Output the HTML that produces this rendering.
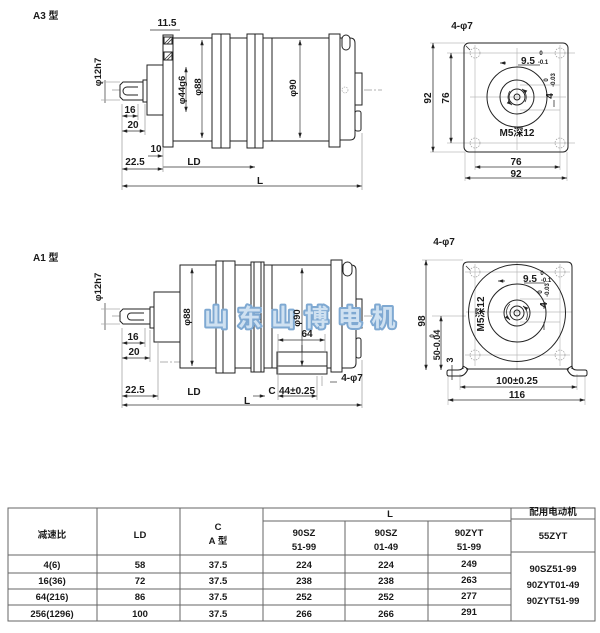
<!DOCTYPE html>
<html><head><meta charset="utf-8"><style>
html,body{margin:0;padding:0;background:#fff;}
svg{display:block;}
text{font-family:"Liberation Sans Narrow","Liberation Sans","Noto Sans CJK SC",sans-serif;font-weight:bold;fill:#1a1a1a;}
</style></head><body>
<svg width="600" height="633" viewBox="0 0 600 633" xmlns="http://www.w3.org/2000/svg">
<defs>
<marker id="a" viewBox="0 0 6 4" refX="6" refY="2" markerWidth="6" markerHeight="3.5" markerUnits="userSpaceOnUse" orient="auto-start-reverse"><path d="M0,0 L6,2 L0,4z" fill="#222"/></marker>
</defs>
<rect width="600" height="633" fill="#fff"/>

<!-- ===================== A3 ===================== -->
<text x="33" y="19" font-size="10">A3 型</text>

<g stroke="#999" stroke-width="0.7" stroke-dasharray="8,2,2,2" fill="none">
<line x1="112" y1="90" x2="382" y2="90"/>
<line x1="270" y1="46" x2="290" y2="46"/>
<line x1="270" y1="133" x2="290" y2="133"/>
<line x1="190" y1="64" x2="200" y2="64"/>
<line x1="190" y1="116" x2="200" y2="116"/>
</g>

<g stroke="#222" stroke-width="1" fill="#fff">
<path d="M120,85 L123,82 L143,82 L143,100 L123,100 L120,97 Z"/>
<path d="M138,87 L127,87 A4,4 0 0 0 127,95 L138,95" fill="none"/>
<rect x="143" y="80" width="4" height="22"/>
<rect x="147" y="65" width="16" height="50"/>
<rect x="173" y="38" width="156" height="103"/>
<rect x="163" y="35" width="10" height="112"/>
<rect x="164" y="37" width="8" height="7"/>
<rect x="164" y="52" width="8" height="8"/>
<rect x="212" y="34" width="18" height="114"/>
<line x1="221" y1="34" x2="221" y2="148"/>
<rect x="247" y="34" width="16" height="114"/>
<line x1="255" y1="34" x2="255" y2="148"/>
<line x1="272" y1="38" x2="272" y2="141"/>
<path d="M339,38 L350,38 Q355,38 355,43 L355,135 Q355,140 350,140 L339,140 Z"/>
<rect x="329" y="34" width="11" height="113"/>
<rect x="342" y="35" width="8" height="15" rx="4"/>
<rect x="355" y="73" width="7" height="32"/>
<rect x="355" y="111" width="6" height="20" rx="2"/>
</g>
<g stroke="#333" stroke-width="0.8">
<line x1="164" y1="44" x2="171" y2="37"/><line x1="167" y1="44" x2="172" y2="39"/>
<line x1="164" y1="60" x2="172" y2="52"/><line x1="167" y1="60" x2="172" y2="55"/>
</g>
<circle cx="345" cy="90" r="3" fill="none" stroke="#aaa" stroke-width="0.7" stroke-dasharray="1.5,1"/>

<g stroke="#333" stroke-width="0.7" fill="none">
<line x1="105" y1="80" x2="105" y2="103"/>
<line x1="101" y1="82" x2="120" y2="82" stroke="#aaa"/>
<line x1="101" y1="100" x2="120" y2="100" stroke="#aaa"/>
<line x1="150" y1="30" x2="180" y2="30"/>
<line x1="186" y1="67" x2="186" y2="112" marker-start="url(#a)" marker-end="url(#a)"/>
<line x1="202" y1="40" x2="202" y2="138" marker-start="url(#a)" marker-end="url(#a)"/>
<line x1="300" y1="40" x2="300" y2="138" marker-start="url(#a)" marker-end="url(#a)"/>
<line x1="122" y1="116" x2="138" y2="116" marker-start="url(#a)" marker-end="url(#a)"/>
<line x1="122" y1="131" x2="145" y2="131" marker-start="url(#a)" marker-end="url(#a)"/>
<line x1="148" y1="156" x2="163" y2="156" marker-end="url(#a)"/>
<line x1="122" y1="169" x2="163" y2="169" marker-start="url(#a)" marker-end="url(#a)"/>
<line x1="163" y1="167" x2="255" y2="167" marker-end="url(#a)"/>
<line x1="122" y1="186" x2="362" y2="186" marker-start="url(#a)" marker-end="url(#a)"/>
<line x1="122" y1="104" x2="122" y2="190" stroke="#999"/>
<line x1="138" y1="104" x2="138" y2="120" stroke="#999"/>
<line x1="145" y1="104" x2="145" y2="135" stroke="#999"/>
<line x1="163" y1="148" x2="163" y2="172" stroke="#999"/>
<line x1="362" y1="133" x2="362" y2="190" stroke="#999"/>
</g>
<text x="167" y="26" font-size="10" text-anchor="middle">11.5</text>
<text transform="translate(101,72) rotate(-90)" font-size="9.5" text-anchor="middle">φ12h7</text>
<text transform="translate(185,90) rotate(-90)" font-size="9.5" text-anchor="middle">φ44g6</text>
<text transform="translate(201,87) rotate(-90)" font-size="9.5" text-anchor="middle">φ88</text>
<text transform="translate(296,88) rotate(-90)" font-size="9.5" text-anchor="middle">φ90</text>
<text x="130" y="113" font-size="10" text-anchor="middle">16</text>
<text x="133" y="128" font-size="10" text-anchor="middle">20</text>
<text x="156" y="152" font-size="10" text-anchor="middle">10</text>
<text x="135" y="165" font-size="10" text-anchor="middle">22.5</text>
<text x="194" y="165" font-size="10" text-anchor="middle">LD</text>
<text x="260" y="184" font-size="10" text-anchor="middle">L</text>

<!-- A3 end view -->
<text x="462" y="29" font-size="10" text-anchor="middle">4-φ7</text>
<g stroke="#bbb" stroke-width="0.7" fill="none">
<line x1="470" y1="97" x2="566" y2="97"/>
<line x1="517" y1="48" x2="517" y2="150"/>
<line x1="430" y1="43" x2="465" y2="43"/>
<line x1="447" y1="53" x2="575" y2="53"/>
<line x1="447" y1="143" x2="575" y2="143"/>
<line x1="430" y1="152" x2="465" y2="152"/>
<line x1="475" y1="45" x2="475" y2="170"/>
<line x1="560" y1="45" x2="560" y2="170"/>
<line x1="465" y1="152" x2="465" y2="181"/>
<line x1="567" y1="152" x2="567" y2="181"/>
<line x1="520" y1="85" x2="560" y2="85"/>
<line x1="520" y1="110" x2="560" y2="110"/>
</g>
<g fill="none" stroke="#999" stroke-width="0.7" stroke-dasharray="1.5,1.2">
<circle cx="475" cy="53" r="5"/><circle cx="560" cy="53" r="5"/>
<circle cx="475" cy="143" r="5"/><circle cx="560" cy="143" r="5"/>
</g>
<g fill="none" stroke="#222" stroke-width="1">
<rect x="464" y="43" width="104" height="109" rx="5"/>
<circle cx="517" cy="97" r="30"/>
<circle cx="517" cy="97" r="17"/>
<circle cx="517" cy="97" r="8"/>
<circle cx="517" cy="97" r="3"/>
</g>
<g stroke="#333" stroke-width="0.8" fill="none">
<path d="M512,105 A10,10 0 0 1 510,91" marker-start="url(#a)"/>
<path d="M522,89 A10,10 0 0 1 525,102" marker-start="url(#a)"/>
<line x1="466" y1="46" x2="470" y2="50"/>
<line x1="433" y1="43" x2="433" y2="152" marker-start="url(#a)" marker-end="url(#a)"/>
<line x1="451" y1="53" x2="451" y2="143" marker-start="url(#a)" marker-end="url(#a)"/>
<line x1="475" y1="167" x2="560" y2="167" marker-start="url(#a)" marker-end="url(#a)"/>
<line x1="465" y1="178" x2="567" y2="178" marker-start="url(#a)" marker-end="url(#a)"/>
<line x1="500" y1="63" x2="506" y2="63" marker-start="url(#a)"/>
<line x1="518" y1="65" x2="540" y2="65"/>
<line x1="554" y1="100" x2="554" y2="107"/>
</g>
<text x="528" y="64" font-size="10" text-anchor="middle">9.5</text>
<text x="541" y="55" font-size="6" text-anchor="middle">0</text>
<text x="543" y="64" font-size="6" text-anchor="middle">-0.1</text>
<text transform="translate(553,96) rotate(-90)" font-size="10" text-anchor="middle">4</text>
<text transform="translate(548,80) rotate(-90)" font-size="6" text-anchor="middle">0</text>
<text transform="translate(555,80) rotate(-90)" font-size="6" text-anchor="middle">-0.03</text>
<text x="517" y="136" font-size="10" text-anchor="middle">M5深12</text>
<text transform="translate(431,98) rotate(-90)" font-size="10" text-anchor="middle">92</text>
<text transform="translate(449,98) rotate(-90)" font-size="10" text-anchor="middle">76</text>
<text x="516" y="165" font-size="10" text-anchor="middle">76</text>
<text x="516" y="177" font-size="10" text-anchor="middle">92</text>

<!-- ===================== A1 ===================== -->
<text x="33" y="261" font-size="10">A1 型</text>

<g stroke="#999" stroke-width="0.7" stroke-dasharray="8,2,2,2" fill="none">
<line x1="112" y1="316" x2="382" y2="316"/>
<line x1="160" y1="362" x2="278" y2="362"/>
<line x1="270" y1="268" x2="290" y2="268"/>
</g>

<g stroke="#222" stroke-width="1" fill="#fff">
<path d="M120,312 L123,309 L150,309 L150,324 L123,324 L120,321 Z"/>
<path d="M144,313 L131,313 A3.5,3.5 0 0 0 131,320 L144,320" fill="none"/>
<rect x="150" y="307" width="4" height="21"/>
<rect x="154" y="292" width="26" height="50"/>
<rect x="180" y="265" width="151" height="103"/>
<rect x="216" y="261" width="19" height="112"/>
<line x1="223" y1="261" x2="223" y2="373"/>
<rect x="251" y="262" width="13" height="110"/>
<line x1="254" y1="262" x2="254" y2="372"/>
<line x1="261" y1="262" x2="261" y2="372"/>
<line x1="272" y1="265" x2="272" y2="368"/>
<rect x="277" y="352" width="50" height="22"/>
<line x1="277" y1="366" x2="327" y2="366"/>
<line x1="302" y1="345" x2="302" y2="352"/>
<path d="M341,265 L351,265 Q356,265 356,270 L356,363 Q356,368 351,368 L341,368 Z"/>
<rect x="331" y="260" width="11" height="112"/>
<rect x="343" y="262" width="9" height="14" rx="4.5"/>
<rect x="356" y="299" width="6" height="29"/>
<rect x="356" y="338" width="5" height="20" rx="2"/>
</g>

<!-- watermark -->
<text x="204" y="326" font-size="24" font-family="'Noto Sans CJK SC','WenQuanYi Zen Hei',sans-serif" font-weight="900" stroke="#7fa9d2" stroke-width="4" stroke-linejoin="round" paint-order="stroke" letter-spacing="9.5" style="fill:#cfe1f1">山东山博电机</text>

<!-- A1 dims -->
<g stroke="#333" stroke-width="0.7" fill="none">
<line x1="105" y1="303" x2="105" y2="330"/>
<line x1="101" y1="309" x2="120" y2="309" stroke="#aaa"/>
<line x1="101" y1="324" x2="120" y2="324" stroke="#aaa"/>
<line x1="122" y1="343" x2="145" y2="343" marker-start="url(#a)" marker-end="url(#a)"/>
<line x1="122" y1="358" x2="150" y2="358" marker-start="url(#a)" marker-end="url(#a)"/>
<line x1="192" y1="268" x2="192" y2="366" marker-start="url(#a)" marker-end="url(#a)"/>
<line x1="302" y1="268" x2="302" y2="366" marker-start="url(#a)" marker-end="url(#a)"/>
<line x1="278" y1="340" x2="325" y2="340" marker-start="url(#a)" marker-end="url(#a)"/>
<line x1="122" y1="396" x2="158" y2="396" marker-start="url(#a)" marker-end="url(#a)"/>
<line x1="253" y1="396" x2="265" y2="396" marker-end="url(#a)"/>
<line x1="278" y1="396" x2="317" y2="396" marker-start="url(#a)" marker-end="url(#a)"/>
<line x1="122" y1="405" x2="362" y2="405" marker-start="url(#a)" marker-end="url(#a)"/>
<line x1="122" y1="328" x2="122" y2="408" stroke="#999"/>
<line x1="145" y1="328" x2="145" y2="347" stroke="#999"/>
<line x1="150" y1="330" x2="150" y2="362" stroke="#999"/>
<line x1="158" y1="343" x2="158" y2="400" stroke="#999"/>
<line x1="278" y1="334" x2="278" y2="400" stroke="#999"/>
<line x1="317" y1="376" x2="317" y2="400" stroke="#999"/>
<line x1="322" y1="376" x2="322" y2="386" stroke="#999"/>
<line x1="325" y1="334" x2="325" y2="352" stroke="#999"/>
<line x1="330" y1="382" x2="337" y2="382"/>
<line x1="362" y1="360" x2="362" y2="408" stroke="#999"/>
</g>
<text transform="translate(101,287) rotate(-90)" font-size="9.5" text-anchor="middle">φ12h7</text>
<text transform="translate(190,317) rotate(-90)" font-size="9.5" text-anchor="middle">φ88</text>
<text transform="translate(300,318) rotate(-90)" font-size="9.5" text-anchor="middle">φ90</text>
<text x="133" y="340" font-size="10" text-anchor="middle">16</text>
<text x="134" y="355" font-size="10" text-anchor="middle">20</text>
<text x="307" y="337" font-size="10" text-anchor="middle">64</text>
<text x="352" y="381" font-size="10" text-anchor="middle">4-φ7</text>
<text x="135" y="393" font-size="10" text-anchor="middle">22.5</text>
<text x="194" y="395" font-size="10" text-anchor="middle">LD</text>
<text x="272" y="394" font-size="10" text-anchor="middle">C</text>
<text x="297" y="394" font-size="10" text-anchor="middle">44±0.25</text>
<text x="247" y="404" font-size="10" text-anchor="middle">L</text>

<!-- A1 end view -->
<text x="444" y="245" font-size="10" text-anchor="middle">4-φ7</text>
<g stroke="#bbb" stroke-width="0.7" fill="none">
<line x1="466" y1="312" x2="572" y2="312"/>
<line x1="517" y1="262" x2="517" y2="370"/>
<line x1="422" y1="260" x2="463" y2="260"/>
<line x1="465" y1="272" x2="570" y2="272"/>
<line x1="465" y1="355" x2="570" y2="355"/>
<line x1="432" y1="316" x2="466" y2="316"/>
<line x1="475" y1="264" x2="475" y2="366"/>
<line x1="560" y1="264" x2="560" y2="366"/>
<line x1="460" y1="374" x2="460" y2="390"/>
<line x1="577" y1="374" x2="577" y2="390"/>
<line x1="448" y1="376" x2="448" y2="405"/>
<line x1="585" y1="376" x2="585" y2="405"/>
<line x1="520" y1="299" x2="560" y2="299"/>
<line x1="520" y1="322" x2="560" y2="322"/>
</g>
<g fill="none" stroke="#999" stroke-width="0.7" stroke-dasharray="1.5,1.2">
<circle cx="475" cy="272" r="5"/><circle cx="560" cy="272" r="5"/>
<circle cx="475" cy="355" r="5"/><circle cx="560" cy="355" r="5"/>
</g>
<g fill="none" stroke="#222" stroke-width="1">
<path d="M463,369 L463,267 Q463,262 468,262 L567,262 Q572,262 572,267 L572,369"/>
<path d="M463,366 Q463,370 458,370 L449,370 Q447,370 447,372 L447,374 Q447,376 449,376 L460,376 Q465,376 468,369 Z"/>
<path d="M572,366 Q572,370 577,370 L585,370 Q587,370 587,372 L587,374 Q587,376 585,376 L575,376 Q570,376 567,369 Z"/>
<line x1="466" y1="369" x2="569" y2="369"/>
<circle cx="517" cy="313" r="48.5"/>
<circle cx="517" cy="313" r="29"/>
<circle cx="517" cy="313" r="13"/>
<circle cx="517" cy="313" r="7"/>
<circle cx="517" cy="313" r="3"/>
</g>
<g stroke="#333" stroke-width="0.8" fill="none">
<path d="M510,320 A11,11 0 0 1 510,304" marker-start="url(#a)"/>
<path d="M523,306 A11,11 0 0 1 526,320" marker-start="url(#a)"/>
<line x1="498" y1="281" x2="505" y2="281" marker-start="url(#a)"/>
<line x1="524" y1="283" x2="545" y2="283"/>
<line x1="544" y1="303" x2="544" y2="309"/>
<line x1="544" y1="322" x2="544" y2="330"/>
<line x1="426" y1="260" x2="426" y2="370" marker-start="url(#a)" marker-end="url(#a)"/>
<line x1="441" y1="316" x2="441" y2="370" marker-start="url(#a)" marker-end="url(#a)"/>
<line x1="452" y1="365" x2="452" y2="380"/>
<line x1="460" y1="387" x2="577" y2="387" marker-start="url(#a)" marker-end="url(#a)"/>
<line x1="448" y1="400" x2="585" y2="400" marker-start="url(#a)" marker-end="url(#a)"/>
<line x1="466" y1="266" x2="470" y2="270"/>
</g>
<text x="530" y="282" font-size="10" text-anchor="middle">9.5</text>
<text x="542" y="275" font-size="6" text-anchor="middle">0</text>
<text x="546" y="282" font-size="6" text-anchor="middle">-0.1</text>
<text transform="translate(547,305) rotate(-90)" font-size="10" text-anchor="middle">4</text>
<text transform="translate(542,292) rotate(-90)" font-size="6" text-anchor="middle">0</text>
<text transform="translate(549,290) rotate(-90)" font-size="6" text-anchor="middle">-0.03</text>
<text transform="translate(484,314) rotate(-90)" font-size="10" text-anchor="middle">M5深12</text>
<text transform="translate(425,321) rotate(-90)" font-size="10" text-anchor="middle">98</text>
<text transform="translate(440,345) rotate(-90)" font-size="9" text-anchor="middle">50-0.04</text>
<text transform="translate(434,336) rotate(-90)" font-size="6" text-anchor="middle">0</text>
<text transform="translate(453,360) rotate(-90)" font-size="9" text-anchor="middle">3</text>
<text x="517" y="384" font-size="10" text-anchor="middle">100±0.25</text>
<text x="517" y="398" font-size="10" text-anchor="middle">116</text>

<!-- ===================== TABLE ===================== -->
<g stroke="#666" stroke-width="1" fill="none">
<rect x="8" y="508" width="587" height="113"/>
<line x1="97" y1="508" x2="97" y2="621"/>
<line x1="180" y1="508" x2="180" y2="621"/>
<line x1="263" y1="508" x2="263" y2="621"/>
<line x1="345" y1="521" x2="345" y2="621"/>
<line x1="428" y1="521" x2="428" y2="621"/>
<line x1="511" y1="508" x2="511" y2="621"/>
<line x1="263" y1="521" x2="511" y2="521"/>
<line x1="511" y1="519" x2="595" y2="519"/>
<line x1="8" y1="555" x2="511" y2="555"/>
<line x1="511" y1="552" x2="595" y2="552"/>
<line x1="8" y1="573" x2="511" y2="573"/>
<line x1="8" y1="589" x2="511" y2="589"/>
<line x1="8" y1="605" x2="511" y2="605"/>
</g>
<g font-size="9.5" text-anchor="middle">
<text x="52" y="538">减速比</text>
<text x="140" y="538">LD</text>
<text x="218" y="530">C</text>
<text x="218" y="544">A 型</text>
<text x="390" y="517">L</text>
<text x="304" y="536">90SZ</text>
<text x="304" y="550">51-99</text>
<text x="386" y="536">90SZ</text>
<text x="386" y="550">01-49</text>
<text x="469" y="536">90ZYT</text>
<text x="469" y="550">51-99</text>
<text x="553" y="515">配用电动机</text>
<text x="553" y="539">55ZYT</text>
<text x="52" y="568">4(6)</text>
<text x="52" y="584">16(36)</text>
<text x="52" y="600">64(216)</text>
<text x="52" y="617">256(1296)</text>
<text x="140" y="568">58</text>
<text x="140" y="584">72</text>
<text x="140" y="600">86</text>
<text x="140" y="617">100</text>
<text x="218" y="568">37.5</text>
<text x="218" y="584">37.5</text>
<text x="218" y="600">37.5</text>
<text x="218" y="617">37.5</text>
<text x="304" y="568">224</text>
<text x="304" y="584">238</text>
<text x="304" y="600">252</text>
<text x="304" y="617">266</text>
<text x="386" y="568">224</text>
<text x="386" y="584">238</text>
<text x="386" y="600">252</text>
<text x="386" y="617">266</text>
<text x="469" y="567">249</text>
<text x="469" y="583">263</text>
<text x="469" y="599">277</text>
<text x="469" y="615">291</text>
<text x="553" y="572">90SZ51-99</text>
<text x="553" y="588">90ZYT01-49</text>
<text x="553" y="604">90ZYT51-99</text>
</g>
</svg>
</body></html>
